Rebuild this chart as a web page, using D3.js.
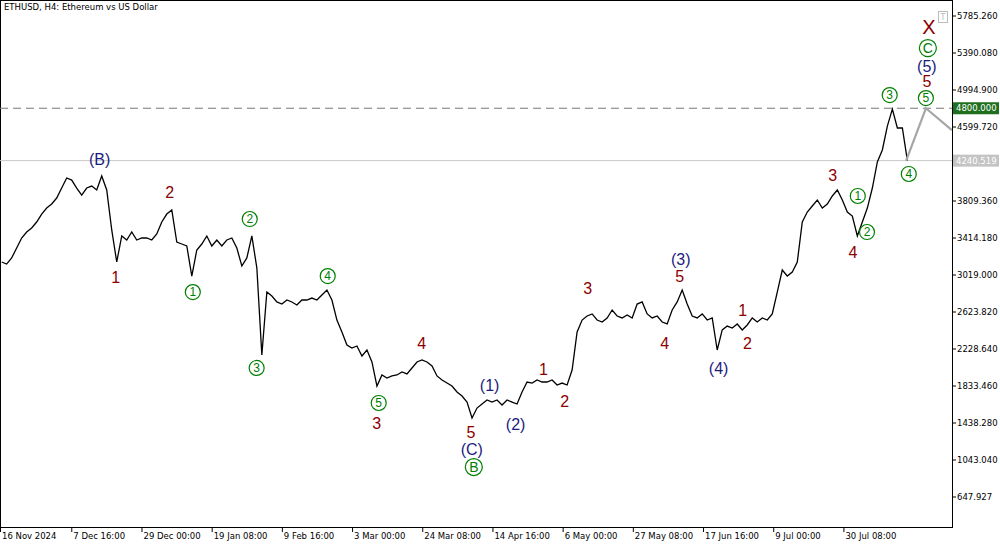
<!DOCTYPE html>
<html><head><meta charset="utf-8">
<script src="https://cdn.jsdelivr.net/npm/d3@7"></script>
<style>body{margin:0;background:#fff}svg{display:block}</style>
</head><body>
<script>
const seriesStart = "2024-11-16T12:00:00";
const stepHours = 36.5;
const prices = [3158,3136,3201,3307,3414,3478,3521,3585,3670,3734,3777,3841,3948,4055,4033,3948,3873,3948,3969,3927,4076,3927,3500,3158,3436,3393,3478,3393,3414,3414,3393,3457,3585,3670,3713,3371,3350,3329,3008,3286,3350,3436,3329,3393,3329,3393,3414,3307,3115,3201,3436,3094,2164,2837,2795,2731,2709,2752,2731,2699,2752,2752,2773,2752,2805,2859,2752,2538,2410,2271,2239,2261,2154,2218,2090,1833,1951,1919,1941,1951,1983,1962,2026,2090,2111,2090,2047,1941,1898,1865,1833,1769,1727,1662,1492,1598,1641,1684,1662,1684,1630,1684,1662,1641,1769,1876,1865,1898,1876,1876,1898,1844,1865,1844,2004,2410,2538,2581,2603,2538,2517,2560,2645,2581,2560,2592,2560,2709,2731,2603,2560,2581,2517,2496,2645,2731,2859,2709,2581,2560,2603,2538,2560,2218,2432,2474,2453,2496,2432,2485,2560,2517,2560,2538,2603,2837,3072,3008,3051,3158,3585,3692,3756,3820,3734,3777,3863,3927,3820,3692,3649,3436,3585,3734,3948,4226,4354,4610,4790,4589,4589,4240.519];
const projectionDays = [274.9, 280.9, 288.8];
const projectionPrices = [4240.519, 4800, 4567];
const yTickLabels = ["5785.260","5390.080","4994.900","4599.720","4204.540","3809.360","3414.180","3019.000","2623.820","2228.640","1833.460","1438.280","1043.040","647.927"];
const yTickValues = [5785.26,5390.08,4994.90,4599.72,4204.54,3809.36,3414.18,3019.00,2623.82,2228.64,1833.46,1438.28,1043.10,647.92];
const xTickDates = ["2024-11-16T00:00","2024-12-07T16:00","2024-12-29T00:00","2025-01-19T08:00","2025-02-09T16:00","2025-03-03T00:00","2025-03-24T08:00","2025-04-14T16:00","2025-05-06T00:00","2025-05-27T08:00","2025-06-17T16:00","2025-07-09T00:00","2025-07-30T08:00"];
const xTickLabels = ["16 Nov 2024","7 Dec 16:00","29 Dec 00:00","19 Jan 08:00","9 Feb 16:00","3 Mar 00:00","24 Mar 08:00","14 Apr 16:00","6 May 00:00","27 May 08:00","17 Jun 16:00","9 Jul 00:00","30 Jul 08:00"];
const waveText = ["(B)","1","2","1","2","3","4","5","3","4","5","(C)","B","(1)","(2)","1","2","3","4","5","(3)","(4)","1","2","3","4","1","2","3","4","5","5","(5)","C","X"];
const waveKind = ["n","r","r","g","g","g","g","g","r","r","r","n","g","n","n","r","r","r","r","r","n","n","r","r","r","r","g","g","g","g","g","r","n","g","r"];
const waveDay = [29.8,34.7,51.1,58.1,75.4,77.5,99.1,114.6,114.0,127.7,142.6,142.9,143.5,148.3,156.2,164.7,171.1,178.1,201.5,206.1,206.4,217.9,225.2,226.7,252.6,258.7,260.2,263.0,269.9,275.7,280.9,281.2,281.2,281.5,281.8];
const wavePrice = [4258,2998,3905,2837,3617,2026,3008,1652,1438,2293,1342,1161,968,1844,1428,2015,1673,2880,2293,3008,3190,2026,2645,2293,4087,3265,3863,3478,4941,4098,4909,5091,5251,5443,5668];
const levels = [4800, 4240.519];

const W=1000,H=545, plotR=952, plotB=527;
const svg=d3.select("body").append("svg").attr("width",W).attr("height",H);
const t0=new Date("2024-11-16T00:00:00");
const HOUR=3600e3;
const x=d3.scaleTime().domain([t0,new Date(+t0+6944*HOUR)]).range([0,plotR]);
const y=d3.scaleLinear().domain([647.92,5785.26]).range([497,16]);
const s0=new Date(seriesStart);
const dayToDate=d=>new Date(+s0+d*24*HOUR);
const data=prices.map((p,i)=>({t:new Date(+s0+i*stepHours*HOUR),p}));

svg.append("rect").attr("x",0.5).attr("y",0.5).attr("width",plotR).attr("height",plotB).attr("fill","#fff").attr("stroke","#000");
svg.append("clipPath").attr("id","c").append("rect").attr("x",0).attr("y",0).attr("width",plotR).attr("height",plotB);
const g=svg.append("g").attr("clip-path","url(#c)");

g.append("line").attr("x1",0).attr("x2",plotR).attr("y1",y(levels[0])).attr("y2",y(levels[0])).attr("stroke","#777").attr("stroke-dasharray","8,5");
g.append("line").attr("x1",0).attr("x2",plotR).attr("y1",y(levels[1])).attr("y2",y(levels[1])).attr("stroke","#c8c8c8");

g.append("path").datum(data).attr("fill","none").attr("stroke","#000").attr("stroke-width",1.3)
 .attr("d",d3.line().x(d=>x(d.t)).y(d=>y(d.p)));
g.append("path").datum(projectionDays.map((d,i)=>[dayToDate(d),projectionPrices[i]]))
 .attr("fill","none").attr("stroke","#a6a6a6").attr("stroke-width",2.2)
 .attr("d",d3.line().x(d=>x(d[0])).y(d=>y(d[1])));

const colors={r:"#8b0000",n:"#1c1c80",g:"#008000"};
waveText.forEach((tx,i)=>{
  const k=waveKind[i], cx=x(dayToDate(waveDay[i])), cy=y(wavePrice[i]);
  if(k==="g"){
    const big = tx==="C"||tx==="B";
    g.append("circle").attr("cx",cx).attr("cy",cy).attr("r",big?8.5:7.5).attr("fill","#fff").attr("stroke","#008000").attr("stroke-width",1.2);
    g.append("text").attr("x",cx).attr("y",cy).attr("dy","0.36em").attr("text-anchor","middle")
      .attr("font-family","Liberation Sans, Arial").attr("font-size",big?14:12).attr("fill","#008000").text(tx);
  } else {
    g.append("text").attr("x",cx).attr("y",cy).attr("dy","0.36em").attr("text-anchor","middle")
      .attr("font-family","Liberation Sans, Arial").attr("font-size",tx==="X"?20:16).attr("fill",colors[k]).text(tx);
  }
});

svg.append("rect").attr("x",938.5).attr("y",11.5).attr("width",9).attr("height",11).attr("fill","#fff").attr("stroke","#bbb");
svg.append("text").attr("x",943).attr("y",20).attr("text-anchor","middle").attr("font-size",8).attr("fill","#bbb").attr("font-family","DejaVu Sans").text("T");

svg.append("text").attr("x",4).attr("y",10).attr("font-family","DejaVu Sans").attr("font-size",8.5).attr("fill","#000").text("ETHUSD, H4:  Ethereum vs US Dollar");

yTickValues.forEach((v,i)=>{
  svg.append("line").attr("x1",plotR).attr("x2",plotR+4).attr("y1",y(v)).attr("y2",y(v)).attr("stroke","#000");
  if(Math.abs(y(v)-y(levels[1]))>8)
    svg.append("text").attr("x",plotR+5).attr("y",y(v)).attr("dy","0.35em").attr("font-family","DejaVu Sans").attr("font-size",8.5).text(yTickLabels[i]);
});
const boxes=[[levels[0],"4800.000","#1f6f1f"],[levels[1],"4240.519","#c4c4c4"]];
boxes.forEach(b=>{
  svg.append("rect").attr("x",plotR+1).attr("y",y(b[0])-6).attr("width",46).attr("height",12).attr("fill",b[2]);
  svg.append("text").attr("x",plotR+4).attr("y",y(b[0])).attr("dy","0.35em").attr("font-family","DejaVu Sans").attr("font-size",8.5).attr("fill","#fff").text(b[1]);
});
xTickDates.forEach((d,i)=>{
  const xx=x(new Date(d));
  svg.append("line").attr("x1",xx+0.5).attr("x2",xx+0.5).attr("y1",plotB).attr("y2",plotB+5).attr("stroke","#000");
  svg.append("text").attr("x",xx+2).attr("y",539).attr("font-family","DejaVu Sans").attr("font-size",8.5).text(xTickLabels[i]);
});
</script>
</body></html>
